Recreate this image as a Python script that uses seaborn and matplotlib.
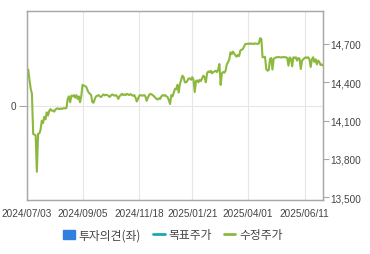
import matplotlib
matplotlib.use("Agg")
import matplotlib.pyplot as plt
import seaborn as sns
import numpy as np
import pandas as pd
from matplotlib.lines import Line2D
from matplotlib.patches import Patch
from matplotlib.ticker import FuncFormatter

# ---- data ----
tick_positions = [0, 45, 91, 134, 179, 225]
tick_labels = ["2024/07/03", "2024/09/05", "2024/11/18", "2025/01/21", "2025/04/01", "2025/06/11"]
price_ticks = [13500, 13800, 14100, 14400, 14700]
opinion_ticks = [0]
legend_labels = ["투자의견(좌)", "목표주가", "수정주가"]

adj_price = [
    14480, 14500, 14420, 14350, 14310, 13996, 13990, 13985, 13700, 13996,
    14000, 14030, 14100, 14080, 14130, 14110, 14165, 14140, 14175, 14190,
    14178, 14180, 14170, 14185, 14195, 14195, 14190, 14195, 14192, 14195,
    14198, 14195, 14200, 14270, 14290, 14244, 14296, 14290, 14300, 14280,
    14300, 14270, 14290, 14244, 14290, 14380, 14375, 14370, 14365, 14340,
    14320, 14310, 14300, 14245, 14240, 14270, 14290, 14295, 14300, 14290,
    14285, 14295, 14305, 14298, 14302, 14300, 14295, 14285, 14296, 14305,
    14300, 14295, 14300, 14290, 14270, 14290, 14300, 14310, 14300, 14305,
    14300, 14310, 14305, 14300, 14308, 14300, 14295, 14300, 14280, 14250,
    14270, 14295, 14300, 14296, 14296, 14300, 14290, 14255, 14280, 14300,
    14310, 14305, 14300, 14290, 14280, 14270, 14265, 14275, 14270, 14290,
    14300, 14295, 14300, 14290, 14285, 14260, 14230, 14300, 14290, 14320,
    14350, 14345, 14380, 14320, 14387, 14420, 14452, 14440, 14400, 14400,
    14410, 14430, 14430, 14420, 14440, 14420, 14324, 14410, 14415, 14400,
    14420, 14410, 14430, 14452, 14440, 14400, 14470, 14485, 14480, 14490,
    14470, 14480, 14485, 14490, 14480, 14500, 14543, 14380, 14470, 14480,
    14475, 14490, 14540, 14557, 14580, 14635, 14620, 14640, 14625, 14610,
    14600, 14615, 14605, 14650, 14655, 14660, 14680, 14700, 14700, 14702,
    14700, 14705, 14700, 14703, 14700, 14705, 14702, 14700, 14705, 14745,
    14740, 14596, 14596, 14600, 14504, 14491, 14495, 14582, 14590, 14500,
    14585, 14590, 14596, 14596, 14598, 14596, 14594, 14596, 14598, 14596,
    14596, 14590, 14530, 14595, 14585, 14525, 14596, 14590, 14596, 14570,
    14590, 14585, 14504, 14570, 14580, 14590, 14596, 14590, 14596, 14580,
    14520, 14580, 14596, 14560, 14580, 14540, 14570, 14560, 14535, 14540,
    14530,
]

df = pd.DataFrame({"idx": np.arange(len(adj_price)), "price": adj_price})

# ---- style ----
sns.set_style("white")
plt.rcParams["font.family"] = ["Liberation Sans", "Noto Sans CJK KR", "DejaVu Sans"]

line_green = "#8cb83e"
target_teal = "#1fa6b5"
opinion_blue = "#2f7ee0"
spine_gray = "#a8a8a8"
grid_gray = "#e6e6e6"
text_gray = "#444444"

fig = plt.figure(figsize=(3.7, 2.55), dpi=100)
ax = fig.add_axes([27 / 370, 1 - 201 / 255, 296 / 370, 189 / 255])
ax2 = ax.twinx()

# left axis (investment opinion) - empty
ax.set_ylim(-1, 1)
ax.set_yticks(opinion_ticks)
ax.set_yticklabels(["0"])
ax.set_xlim(0, len(adj_price) - 1)
ax.set_xticks(tick_positions)
ax.set_xticklabels(tick_labels)
ax.grid(True, color=grid_gray, linewidth=0.8)

# right axis: adjusted price
sns.lineplot(data=df, x="idx", y="price", ax=ax2, color=line_green,
             linewidth=1.5, legend=False)
ax2.set_ylim(13479, 14958)
ax2.set_yticks(price_ticks)
ax2.yaxis.set_major_formatter(FuncFormatter(lambda v, p: f"{int(v):,}"))
ax2.set_xlim(0, len(adj_price) - 1)
ax2.set_xlabel("")
ax2.set_ylabel("")
ax.set_xlabel("")
ax.set_ylabel("")

for a in (ax, ax2):
    for s in a.spines.values():
        s.set_color(spine_gray)
        s.set_linewidth(0.9)
    a.tick_params(axis="both", colors=spine_gray, labelcolor=text_gray,
                  labelsize=7.2, length=4, width=0.8, pad=1.5)

ax.tick_params(axis="y", length=6)

handles = [
    Patch(facecolor=opinion_blue, edgecolor=opinion_blue),
    Line2D([0], [0], color=target_teal, linewidth=2),
    Line2D([0], [0], color=line_green, linewidth=2),
]
leg = fig.legend(handles, legend_labels, loc="center", bbox_to_anchor=(173 / 370, 1 - 236 / 255),
                 ncol=3, frameon=False, handlelength=1.0, handleheight=0.9,
                 handletextpad=0.3, columnspacing=1.0,
                 prop={"family": ["Noto Sans CJK KR", "DejaVu Sans"], "size": 8.5})
for t in leg.get_texts():
    t.set_color(text_gray)

fig.savefig("out.png", dpi=100)
